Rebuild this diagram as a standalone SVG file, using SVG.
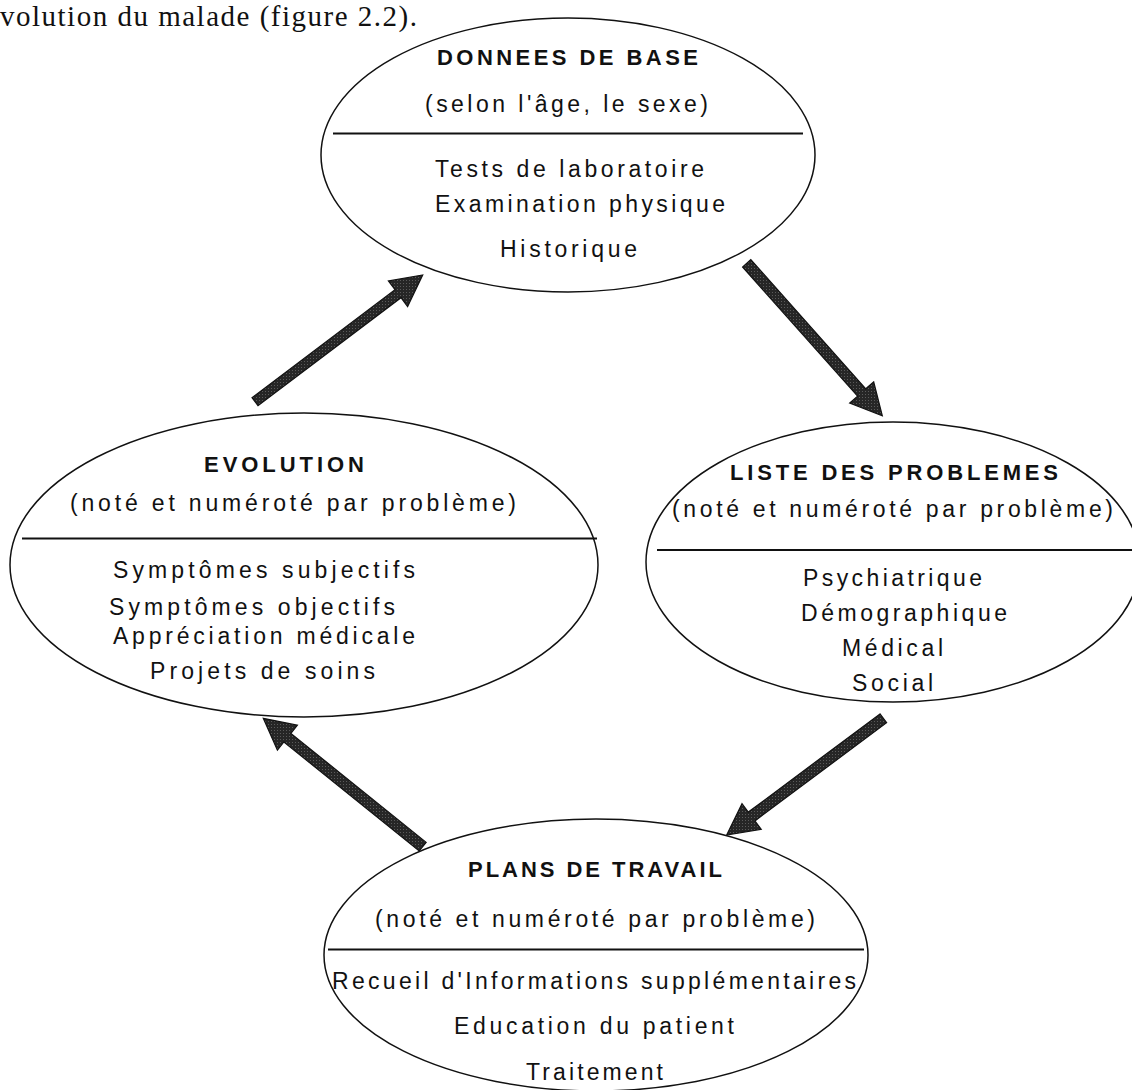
<svg xmlns="http://www.w3.org/2000/svg" width="1132" height="1090" viewBox="0 0 1132 1090">
  <defs>
    <!-- halftone fill used by the thick arrows -->
    <pattern id="stipple" width="3" height="3" patternUnits="userSpaceOnUse">
      <rect width="3" height="3" fill="#262626"/>
      <rect x="1" y="1" width="1" height="1" fill="#5a5a5a"/>
    </pattern>
    <style>
      .oval { fill: none; stroke: #111; stroke-width: 1.5; }
      .rule { stroke: #111; stroke-width: 1.8; }
      .title { font-family: "Liberation Sans", Arial, sans-serif; font-weight: bold; font-size: 22px; fill: #111; }
      .item { font-family: "Liberation Sans", Arial, sans-serif; font-size: 23px; fill: #111; }
      .head { font-family: "Liberation Serif", "Times New Roman", serif; font-size: 29px; fill: #111; }
      .arrow { fill: url(#stipple); stroke: #111; stroke-width: 1.2; stroke-linejoin: miter; }
    </style>
  </defs>

  <rect width="1132" height="1090" fill="#ffffff"/>

  <!-- running text above the figure -->
  <text class="head" x="0" y="26" textLength="417" lengthAdjust="spacing">volution du malade (figure 2.2).</text>

  <!-- base data -->
  <g id="node-donnees">
    <ellipse class="oval" cx="568" cy="155" rx="247" ry="137"/>
    <text class="title" x="437" y="65" textLength="261" lengthAdjust="spacing">DONNEES DE BASE</text>
    <text class="item" x="425" y="112" textLength="283" lengthAdjust="spacing">(selon l'âge, le sexe)</text>
    <line class="rule" x1="333" y1="133.5" x2="803" y2="133.5"/>
    <text class="item" x="435" y="177" textLength="269" lengthAdjust="spacing">Tests de laboratoire</text>
    <text class="item" x="435" y="212" textLength="290" lengthAdjust="spacing">Examination physique</text>
    <text class="item" x="500" y="257" textLength="137" lengthAdjust="spacing">Historique</text>
  </g>

  <!-- problem list -->
  <g id="node-liste">
    <ellipse class="oval" cx="893" cy="562" rx="247" ry="140"/>
    <text class="title" x="730" y="480" textLength="328" lengthAdjust="spacing">LISTE DES PROBLEMES</text>
    <text class="item" x="672" y="517" textLength="441" lengthAdjust="spacing">(noté et numéroté par problème)</text>
    <line class="rule" x1="657" y1="550" x2="1132" y2="550"/>
    <text class="item" x="803" y="586" textLength="179" lengthAdjust="spacing">Psychiatrique</text>
    <text class="item" x="801" y="621" textLength="206" lengthAdjust="spacing">Démographique</text>
    <text class="item" x="842" y="656" textLength="101" lengthAdjust="spacing">Médical</text>
    <text class="item" x="852" y="691" textLength="81" lengthAdjust="spacing">Social</text>
  </g>

  <!-- work plans -->
  <g id="node-plans">
    <ellipse class="oval" cx="596" cy="955" rx="272" ry="136"/>
    <text class="title" x="468" y="877" textLength="254" lengthAdjust="spacing">PLANS DE TRAVAIL</text>
    <text class="item" x="375" y="927" textLength="440" lengthAdjust="spacing">(noté et numéroté par problème)</text>
    <line class="rule" x1="328" y1="949.5" x2="864" y2="949.5"/>
    <text class="item" x="332" y="989" textLength="524" lengthAdjust="spacing">Recueil d'Informations supplémentaires</text>
    <text class="item" x="454" y="1034" textLength="280" lengthAdjust="spacing">Education du patient</text>
    <text class="item" x="526" y="1080" textLength="137" lengthAdjust="spacing">Traitement</text>
  </g>

  <!-- progress notes -->
  <g id="node-evolution">
    <ellipse class="oval" cx="304" cy="565" rx="294" ry="152"/>
    <text class="title" x="204" y="472" textLength="160" lengthAdjust="spacing">EVOLUTION</text>
    <text class="item" x="70" y="511" textLength="446" lengthAdjust="spacing">(noté et numéroté par problème)</text>
    <line class="rule" x1="22" y1="538.5" x2="597" y2="538.5"/>
    <text class="item" x="113" y="578" textLength="302" lengthAdjust="spacing">Symptômes subjectifs</text>
    <text class="item" x="109" y="615" textLength="286" lengthAdjust="spacing">Symptômes objectifs</text>
    <text class="item" x="113" y="644" textLength="302" lengthAdjust="spacing">Appréciation médicale</text>
    <text class="item" x="150" y="679" textLength="225" lengthAdjust="spacing">Projets de soins</text>
  </g>

  <!-- cycle arrows -->
  <g id="connectors">
    <polygon class="arrow" points="252,397.7 395,289.7 388.4,280.9 422.7,275 407.6,306.5 401,297.7 258,405.7"/>
    <polygon class="arrow" points="742.6,267 857.6,396.2 849.7,403.1 882.3,415.7 873.7,381.9 865.8,388.8 750.8,259.6"/>
    <polygon class="arrow" points="880,713.9 748.3,812.1 742,803.7 726.7,835 761.2,829.3 754.9,820.9 886.6,722.7"/>
    <polygon class="arrow" points="426.2,842.4 290.9,733.4 297.4,725.2 263.3,718.3 277.4,750.2 283.9,742 419.2,851"/>
  </g>
</svg>
